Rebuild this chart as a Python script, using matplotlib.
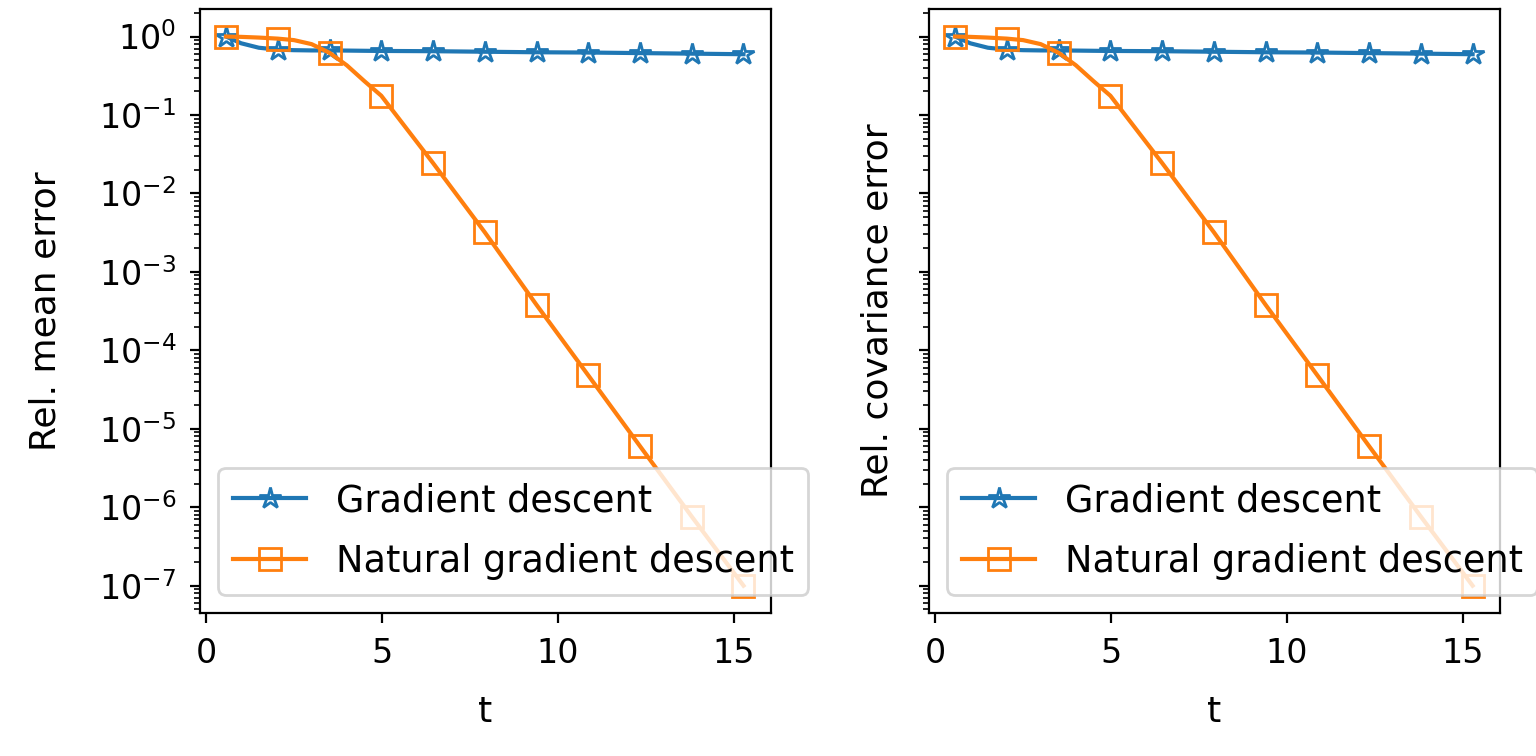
import numpy as np
import matplotlib
matplotlib.use('Agg')
import matplotlib.pyplot as plt
from matplotlib import ticker

# values
t = [0.57, 1.0, 1.5, 2.04, 2.5, 3.0, 3.51, 4.0, 4.5, 4.98, 6.45, 7.92, 9.39, 10.86, 12.33, 13.8, 15.27]
gd = [1.0, 0.82, 0.72, 0.68, 0.67, 0.665, 0.665, 0.662, 0.658, 0.655, 0.65, 0.64, 0.63, 0.625, 0.615, 0.605, 0.595]
ngd = [1.0, 0.99, 0.97, 0.94, 0.9, 0.8, 0.62, 0.43, 0.27, 0.176, 0.0244, 0.0032, 3.8e-4, 4.8e-5, 6.0e-6, 7.6e-7, 1.0e-7]
marks = [0, 3, 6, 9, 10, 11, 12, 13, 14, 15, 16]

ylabels = ['Rel. mean error', 'Rel. covariance error']
ypads = [13, 9]

fig, axs = plt.subplots(1, 2, figsize=(7.68, 3.78), dpi=200, sharey=True)
fig.subplots_adjust(left=0.1302, right=0.9766, bottom=0.189, top=0.988, wspace=0.277)

for ax, lab, pad in zip(axs, ylabels, ypads):
    ax.plot(t, gd, marker='*', fillstyle='none', markersize=8, markevery=marks,
            color='tab:blue', label='Gradient descent')
    ax.plot(t, ngd, marker='s', fillstyle='none', markersize=8, markevery=marks,
            color='tab:orange', label='Natural gradient descent')
    ax.set_yscale('log')
    ax.set_xlim(-0.17, 16.05)
    ax.set_xlabel('t', fontsize=13, labelpad=9)
    ax.set_ylabel(lab, fontsize=13, labelpad=pad)
    ax.tick_params(labelsize=12, pad=5)
    ax.yaxis.set_major_locator(ticker.LogLocator(base=10, numticks=15))
    ax.yaxis.set_minor_locator(ticker.LogLocator(base=10, subs=np.arange(2, 10), numticks=15))
    ax.legend(loc='lower left', fontsize=13.2, labelspacing=0.65)

fig.savefig('out.png', dpi=200)
